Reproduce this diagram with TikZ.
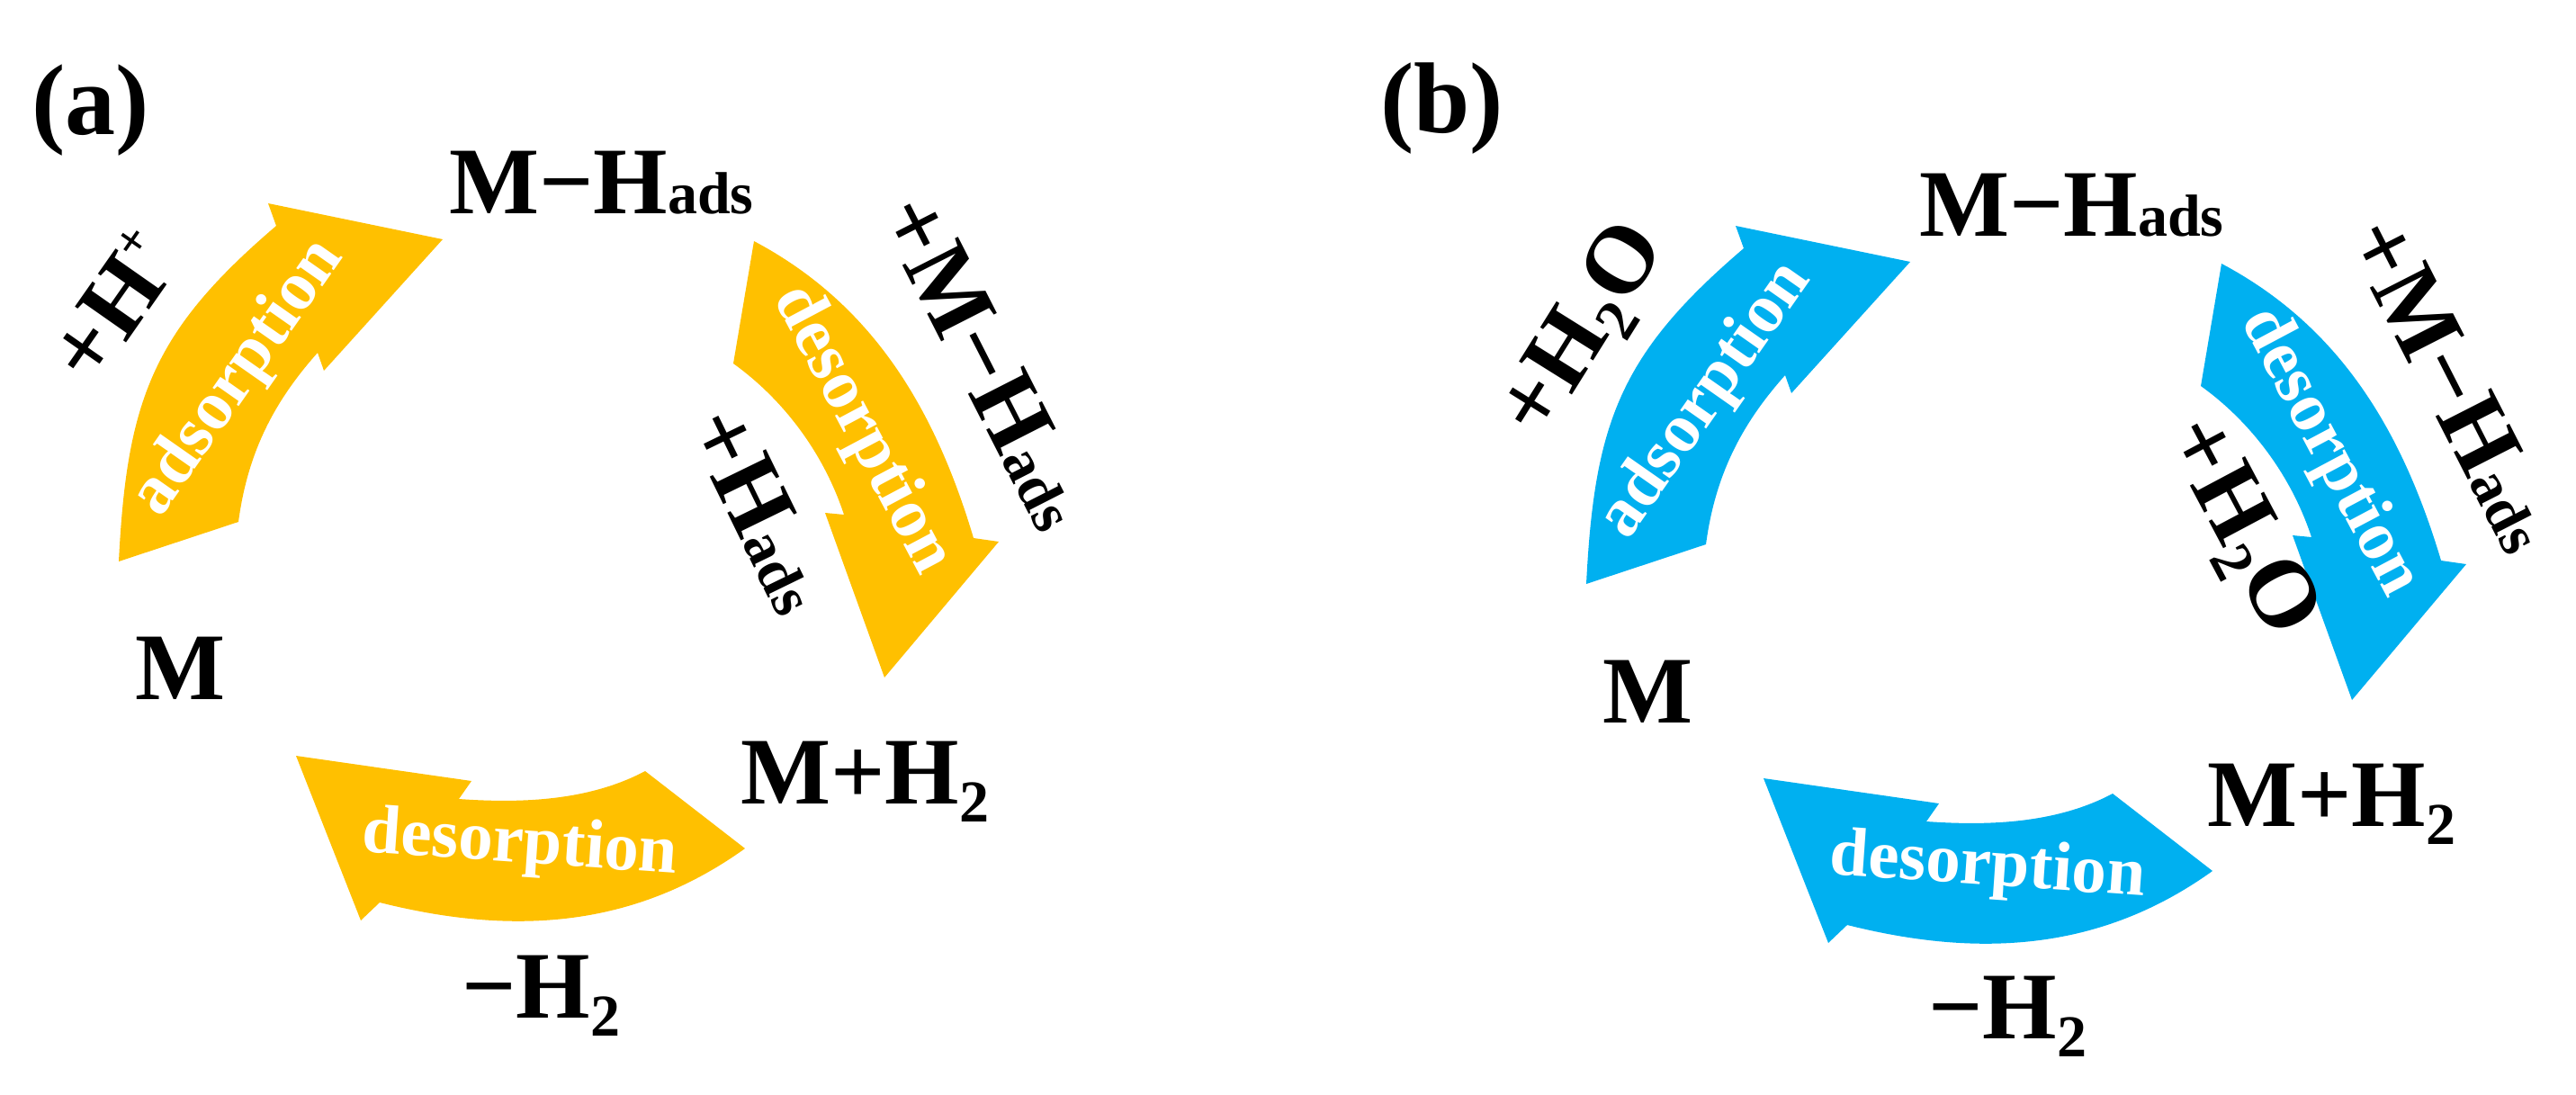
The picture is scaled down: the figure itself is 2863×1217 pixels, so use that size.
\documentclass[tikz,border=0pt]{standalone}
\usepackage{fontspec}
\setmainfont{Liberation Serif}
\definecolor{gold}{HTML}{FFC000}
\definecolor{sky}{HTML}{00B0F0}
\newcommand\adsx{{\fontsize{66}{66}\selectfont ads}}
\newcommand\subtwo{\raisebox{-20pt}{\fontsize{66}{66}\selectfont 2}}
\newcommand\supplus{\raisebox{42pt}{\fontsize{55}{55}\selectfont +}}
\newcommand\cyclearrows[1]{%
  % adsorption arrow (left)
  \fill[#1] (132,624) -- (265,580) .. controls (275,505) and (303,448) .. (353,392)
    -- (360,412) -- (492,266) -- (298,226) -- (307,251)
    .. controls (170,368) and (141,444) .. (132,624) -- cycle;
  % desorption arrow (right)
  \fill[#1] (838,268) -- (815,404) .. controls (872,445) and (916,505) .. (938,572)
    -- (917,570) -- (983,753) -- (1110,602) -- (1082,598)
    .. controls (1039,454) and (970,338) .. (838,268) -- cycle;
  % desorption arrow (bottom)
  \fill[#1] (329,840) -- (524,868) -- (510,888) .. controls (580,893) and (655,890) .. (717,857)
    -- (828,943) .. controls (704,1032) and (569,1040) .. (422,1003)
    -- (401,1023) -- cycle;
}
\begin{document}
\begin{tikzpicture}[x=1pt,y=-1pt,
  lbl/.style={font=\fontsize{106}{110}\selectfont\bfseries, inner sep=0pt, text=black},
  panel/.style={font=\fontsize{112}{116}\selectfont\bfseries, inner sep=0pt},
  arrtxt/.style={font=\fontsize{77}{80}\selectfont\bfseries, text=white, inner sep=0pt}]
\useasboundingbox (0,0) rectangle (2863,1217);
% ---------------- panel (a)
\begin{scope}
  \cyclearrows{gold}
\end{scope}
\node[panel, anchor=base west] (la) at (35,150) {(a)};
\node[lbl, anchor=base west] (mha) at (499,237) {M−H\adsx};
\node[lbl, anchor=base west] (ma) at (150,777) {M};
\node[lbl, anchor=base west] (mh2a) at (823,893) {M+H\subtwo};
\node[lbl, anchor=base west] (h2a) at (513,1131) {−H\subtwo};
\node[lbl, rotate=55] (hpa) at (125,340) {+H\supplus};
\node[lbl, rotate=-63] (mhouta) at (1096,402) {+M−H\adsx};
\node[lbl, rotate=-64] (hina) at (845,566) {+H\adsx};
\node[arrtxt, rotate=55] (adsa) at (265,420) {adsorption};
\node[arrtxt, rotate=-62] (desra) at (958,478) {desorption};
\node[arrtxt, rotate=-4] (desba) at (578,940) {desorption};
% ---------------- panel (b)
\begin{scope}[shift={(1631,25)}]
  \cyclearrows{sky}
\end{scope}
\node[panel, anchor=base west] (lb) at (1534,148) {(b)};
\node[lbl, anchor=base west] (mhb) at (2133,262) {M−H\adsx};
\node[lbl, anchor=base west] (mb) at (1781,803) {M};
\node[lbl, anchor=base west] (mh2b) at (2453,918) {M+H\subtwo};
\node[lbl, anchor=base west] (h2b) at (2143,1154) {−H\subtwo};
\node[lbl, rotate=58] (h2ob) at (1762,369) {+H\subtwo O};
\node[lbl, rotate=-63] (mhoutb) at (2727,427) {+M−H\adsx};
\node[lbl, rotate=-62] (h2oinb) at (2488,587) {+H\subtwo O};
\node[arrtxt, rotate=55] (adsb) at (1896,445) {adsorption};
\node[arrtxt, rotate=-62] (desrb) at (2589,503) {desorption};
\node[arrtxt, rotate=-4] (desbb) at (2209,965) {desorption};
\end{tikzpicture}
\end{document}
